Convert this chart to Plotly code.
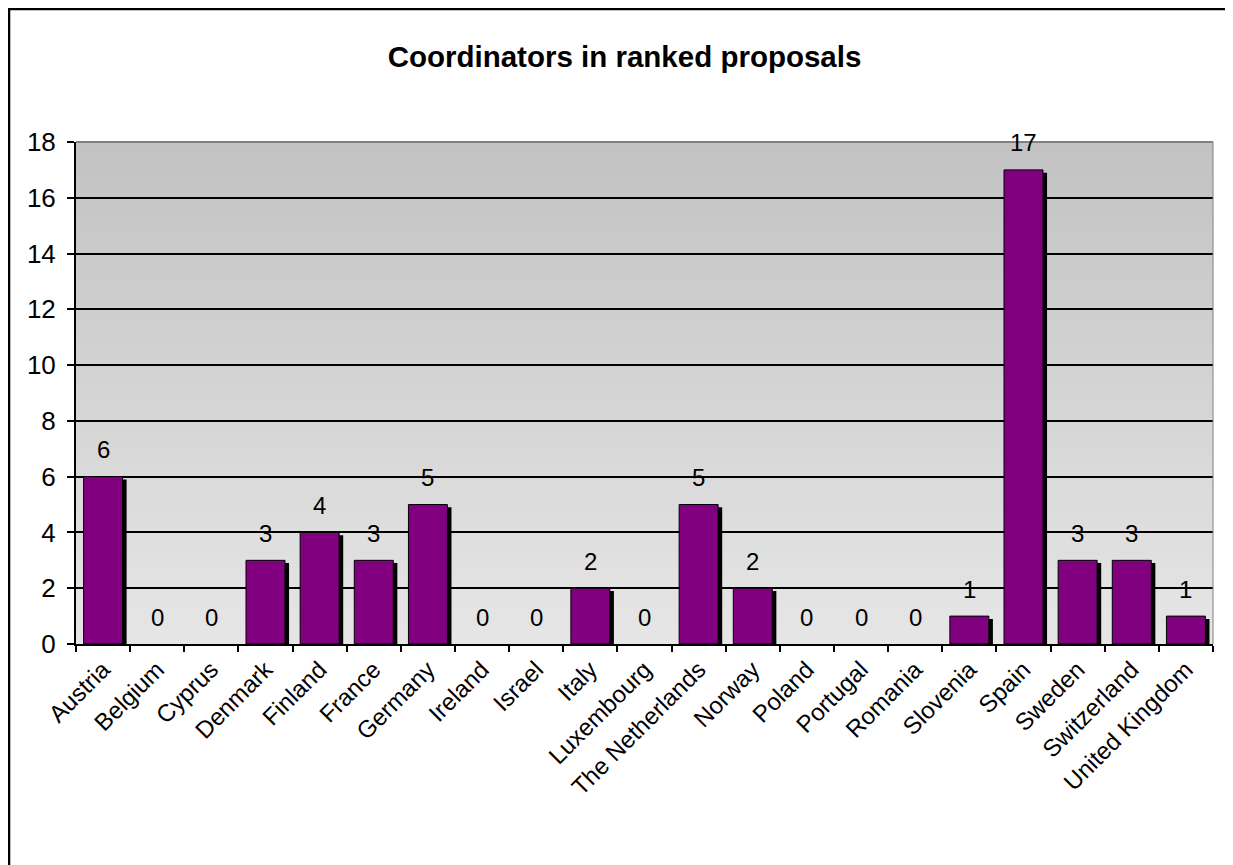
import plotly.graph_objects as go

countries = ["Austria", "Belgium", "Cyprus", "Denmark", "Finland", "France", "Germany",
             "Ireland", "Israel", "Italy", "Luxembourg", "The Netherlands", "Norway",
             "Poland", "Portugal", "Romania", "Slovenia", "Spain", "Sweden",
             "Switzerland", "United Kingdom"]
coordinators = [6, 0, 0, 3, 4, 3, 5, 0, 0, 2, 0, 5, 2, 0, 0, 0, 1, 17, 3, 3, 1]
y_ticks = [0, 2, 4, 6, 8, 10, 12, 14, 16, 18]

FONT = "Liberation Sans, Arial, sans-serif"
PURPLE = "#800080"
BAR_W = 0.72

fig = go.Figure()

# drop shadow behind each bar
fig.add_trace(go.Bar(
    x=countries, y=coordinators,
    base=[-0.1 if v > 0 else 0 for v in coordinators],
    width=BAR_W, offset=-BAR_W / 2 + 0.075,
    marker=dict(color="black", line=dict(width=0)),
    hoverinfo="skip", showlegend=False,
))
fig.add_trace(go.Bar(
    x=countries, y=coordinators,
    width=BAR_W, offset=-BAR_W / 2,
    marker=dict(color=PURPLE,
                line=dict(color="black", width=[1 if v > 0 else 0 for v in coordinators])),
    showlegend=False,
))

# value labels above bars
for c, v in zip(countries, coordinators):
    fig.add_annotation(
        x=c, y=v, text=str(v), showarrow=False,
        yshift=27, font=dict(family=FONT, size=24, color="black"),
    )

# vertical gradient background (dark at top, light at bottom)
n = 80
top, bot = 0xC2, 0xE6
for i in range(n):
    g = round(bot + (top - bot) * (i + 0.5) / n)
    fig.add_shape(
        type="rect", xref="x domain", yref="y domain",
        x0=0, x1=1, y0=i / n, y1=min((i + 1.6) / n, 1),
        fillcolor=f"rgb({g},{g},{g})", line=dict(width=0), layer="below",
    )

# gray top/right border of plot area
fig.add_shape(type="line", xref="x domain", yref="y domain", x0=0, x1=1, y0=1, y1=1,
              line=dict(color="#808080", width=2), layer="above")
fig.add_shape(type="line", xref="x domain", yref="y domain", x0=1, x1=1, y0=0, y1=1,
              line=dict(color="#808080", width=1), layer="above")

# outer chart border (only top and left fall inside the image)
fig.add_shape(type="rect", xref="paper", yref="paper",
              x0=-0.0589, x1=1.1, y0=-0.6, y1=1.265,
              line=dict(color="black", width=2.5), fillcolor="rgba(0,0,0,0)")

fig.update_layout(
    title=dict(text="<b>Coordinators in ranked proposals</b>", x=0.5, xanchor="center",
               y=0.944, yanchor="middle", font=dict(family=FONT, size=29.5, color="black")),
    barmode="overlay",
    width=1233, height=865,
    margin=dict(l=68, r=28, t=134, b=229),
    paper_bgcolor="white",
    plot_bgcolor="rgba(0,0,0,0)",
    font=dict(family=FONT, size=24, color="black"),
    xaxis=dict(
        tickangle=-45, tickson="boundaries", ticks="outside", ticklen=6,
        tickcolor="black", tickwidth=1.5, showline=True, linecolor="black", linewidth=2,
        showgrid=False, tickfont=dict(family=FONT, size=24),
    ),
    yaxis=dict(
        range=[0, 18], tickvals=y_ticks, ticks="outside", ticklen=7,
        tickcolor="black", tickwidth=1.5, showline=True, linecolor="black", linewidth=2,
        showgrid=True, gridcolor="black", gridwidth=1.5, zeroline=False,
        tickfont=dict(family=FONT, size=26), ticklabelstandoff=6,
    ),
)

fig.write_html("out.html")
